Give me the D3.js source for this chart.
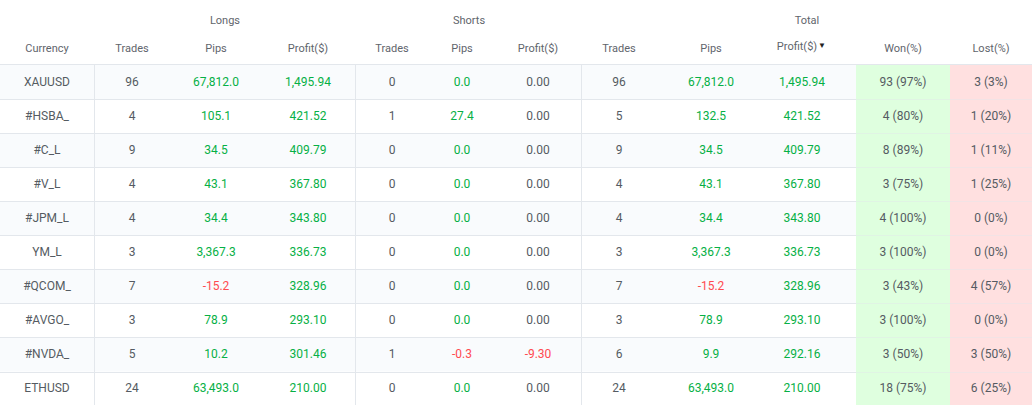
<!DOCTYPE html>
<html>
<head>
<meta charset="utf-8">
<script src="https://cdn.jsdelivr.net/npm/d3@7"></script>
<style>
    html, body { margin: 0; padding: 0; background: #fff; overflow: hidden; }
    text { font-family: Roboto, sans-serif; }
</style>
</head>
<body>
<script>
//table values
var currencies = ["XAUUSD", "#HSBA_", "#C_L", "#V_L", "#JPM_L", "YM_L", "#QCOM_", "#AVGO_", "#NVDA_", "ETHUSD"];
var longTrades = [96, 4, 9, 4, 4, 3, 7, 3, 5, 24];
var longPips = [67812.0, 105.1, 34.5, 43.1, 34.4, 3367.3, -15.2, 78.9, 10.2, 63493.0];
var longProfit = [1495.94, 421.52, 409.79, 367.80, 343.80, 336.73, 328.96, 293.10, 301.46, 210.00];
var shortTrades = [0, 1, 0, 0, 0, 0, 0, 0, 1, 0];
var shortPips = [0.0, 27.4, 0.0, 0.0, 0.0, 0.0, 0.0, 0.0, -0.3, 0.0];
var shortProfit = [0, 0, 0, 0, 0, 0, 0, 0, -9.30, 0];
var totalTrades = [96, 5, 9, 4, 4, 3, 7, 3, 6, 24];
var totalPips = [67812.0, 132.5, 34.5, 43.1, 34.4, 3367.3, -15.2, 78.9, 9.9, 63493.0];
var totalProfit = [1495.94, 421.52, 409.79, 367.80, 343.80, 336.73, 328.96, 293.10, 292.16, 210.00];
var wonCount = [93, 4, 8, 3, 4, 3, 3, 3, 3, 18];
var wonPct = [97, 80, 89, 75, 100, 100, 43, 100, 50, 75];
var lostCount = [3, 1, 1, 1, 0, 0, 4, 0, 3, 6];
var lostPct = [3, 20, 11, 25, 0, 0, 57, 0, 50, 25];

var columnLabels = ["Currency", "Trades", "Pips", "Profit($)", "Trades", "Pips", "Profit($)", "Trades", "Pips", "Profit($)", "Won(%)", "Lost(%)"];
var groupLabels = ["Longs", "Shorts", "Total"];

var width = 1032,
    height = 405;

var colors = {
    text: "#555b62", header: "#5f656c", green: "#06b045", red: "#ff4a50",
    line: "#e3e7ec", stripe: "#f9fbfd", won: "#dfffdf", lost: "#ffe0e0"
};

//plain hyphen for negatives, same as the reference
var locale = d3.formatLocale({ decimal: ".", thousands: ",", grouping: [3], currency: ["", ""], minus: "-" });
var pipsFormat = locale.format(",.1f"),
    moneyFormat = locale.format(",.2f");

//column centres and row bands
var columnScale = d3.scaleOrdinal()
    .domain(d3.range(columnLabels.length))
    .range([47, 132, 216, 308, 392, 462, 538, 619, 711, 802, 903, 991]);

var groupScale = d3.scaleOrdinal()
    .domain(groupLabels)
    .range([225, 469, 807]);

var rowScale = d3.scaleBand()
    .domain(currencies)
    .range([65, 405.6]);

var svg = d3.select("body")
    .append("svg")
    .attr("width", width)
    .attr("height", height)
    .style("display", "block");

setRowBackgrounds();
setCells();
setHeader();
setRules();

function setRowBackgrounds(){
    //zebra stripes under everything up to the won column
    svg.selectAll(".stripe")
        .data(currencies.filter(function (d, i) { return i % 2 === 0; }))
        .enter()
        .append("rect")
        .attr("class", "stripe")
        .attr("x", 0)
        .attr("y", function (d) { return rowScale(d); })
        .attr("width", 856)
        .attr("height", rowScale.bandwidth())
        .attr("fill", colors.stripe);

    svg.append("rect")
        .attr("x", 856).attr("y", rowScale.range()[0])
        .attr("width", 94).attr("height", height - rowScale.range()[0])
        .attr("fill", colors.won);

    svg.append("rect")
        .attr("x", 950).attr("y", rowScale.range()[0])
        .attr("width", 82).attr("height", height - rowScale.range()[0])
        .attr("fill", colors.lost);
}

function pipsColor(v){
    return v < 0 ? colors.red : colors.green;
}

function moneyColor(v){
    return v < 0 ? colors.red : (v > 0 ? colors.green : colors.text);
}

function setCells(){
    currencies.forEach(function (name, i) {
        var cells = [
            { t: name, c: colors.text },
            { t: longTrades[i], c: colors.text },
            { t: pipsFormat(longPips[i]), c: pipsColor(longPips[i]) },
            { t: moneyFormat(longProfit[i]), c: moneyColor(longProfit[i]) },
            { t: shortTrades[i], c: colors.text },
            { t: pipsFormat(shortPips[i]), c: pipsColor(shortPips[i]) },
            { t: moneyFormat(shortProfit[i]), c: moneyColor(shortProfit[i]) },
            { t: totalTrades[i], c: colors.text },
            { t: pipsFormat(totalPips[i]), c: pipsColor(totalPips[i]) },
            { t: moneyFormat(totalProfit[i]), c: moneyColor(totalProfit[i]) },
            { t: wonCount[i] + " (" + wonPct[i] + "%)", c: colors.text },
            { t: lostCount[i] + " (" + lostPct[i] + "%)", c: colors.text }
        ];

        svg.append("g")
            .attr("class", "row")
            .attr("transform", "translate(0," + (rowScale(name) + rowScale.bandwidth() / 2 - 0.6) + ")")
            .selectAll("text")
            .data(cells)
            .enter()
            .append("text")
            .attr("x", function (d, j) { return columnScale(j); })
            .attr("dy", "0.35em")
            .attr("text-anchor", "middle")
            .attr("font-size", 12)
            .attr("fill", function (d) { return d.c; })
            .text(function (d) { return d.t; });
    });
}

function setHeader(){
    svg.selectAll(".group")
        .data(groupLabels)
        .enter()
        .append("text")
        .attr("class", "group")
        .attr("x", function (d) { return groupScale(d); })
        .attr("y", 24)
        .attr("text-anchor", "middle")
        .attr("font-size", 11)
        .attr("fill", colors.header)
        .text(function (d) { return d; });

    //the sorted column sits a little higher and to the left, next to its arrow
    svg.selectAll(".column")
        .data(columnLabels)
        .enter()
        .append("text")
        .attr("class", "column")
        .attr("x", function (d, i) { return i === 9 ? 797 : columnScale(i); })
        .attr("y", function (d, i) { return i === 9 ? 50 : 52; })
        .attr("text-anchor", "middle")
        .attr("font-size", 11)
        .attr("fill", colors.header)
        .text(function (d) { return d; });

    svg.append("text")
        .attr("x", 822)
        .attr("y", 48)
        .attr("text-anchor", "middle")
        .attr("font-size", 8)
        .attr("fill", "#222")
        .text("\u25BC");
}

function setRules(){
    var lineY = function (d, i) { return i === 0 ? 64.5 : Math.round(rowScale(d)) + 0.5; };

    svg.selectAll(".hline")
        .data(currencies)
        .enter()
        .append("line")
        .attr("class", "hline")
        .attr("x1", 0)
        .attr("x2", 856)
        .attr("y1", lineY)
        .attr("y2", lineY)
        .attr("stroke", colors.line);

    //fainter over the won and lost cells
    svg.selectAll(".hlineRight")
        .data(currencies)
        .enter()
        .append("line")
        .attr("class", "hlineRight")
        .attr("x1", 856)
        .attr("x2", width)
        .attr("y1", lineY)
        .attr("y2", lineY)
        .attr("stroke", colors.line)
        .attr("stroke-opacity", function (d, i) { return i === 0 ? 1 : 0.45; });

    svg.selectAll(".vline")
        .data([94.5, 355.5, 581.5])
        .enter()
        .append("line")
        .attr("class", "vline")
        .attr("x1", function (d) { return d; })
        .attr("x2", function (d) { return d; })
        .attr("y1", rowScale.range()[0])
        .attr("y2", height)
        .attr("stroke", colors.line);
}
</script>
</body>
</html>
